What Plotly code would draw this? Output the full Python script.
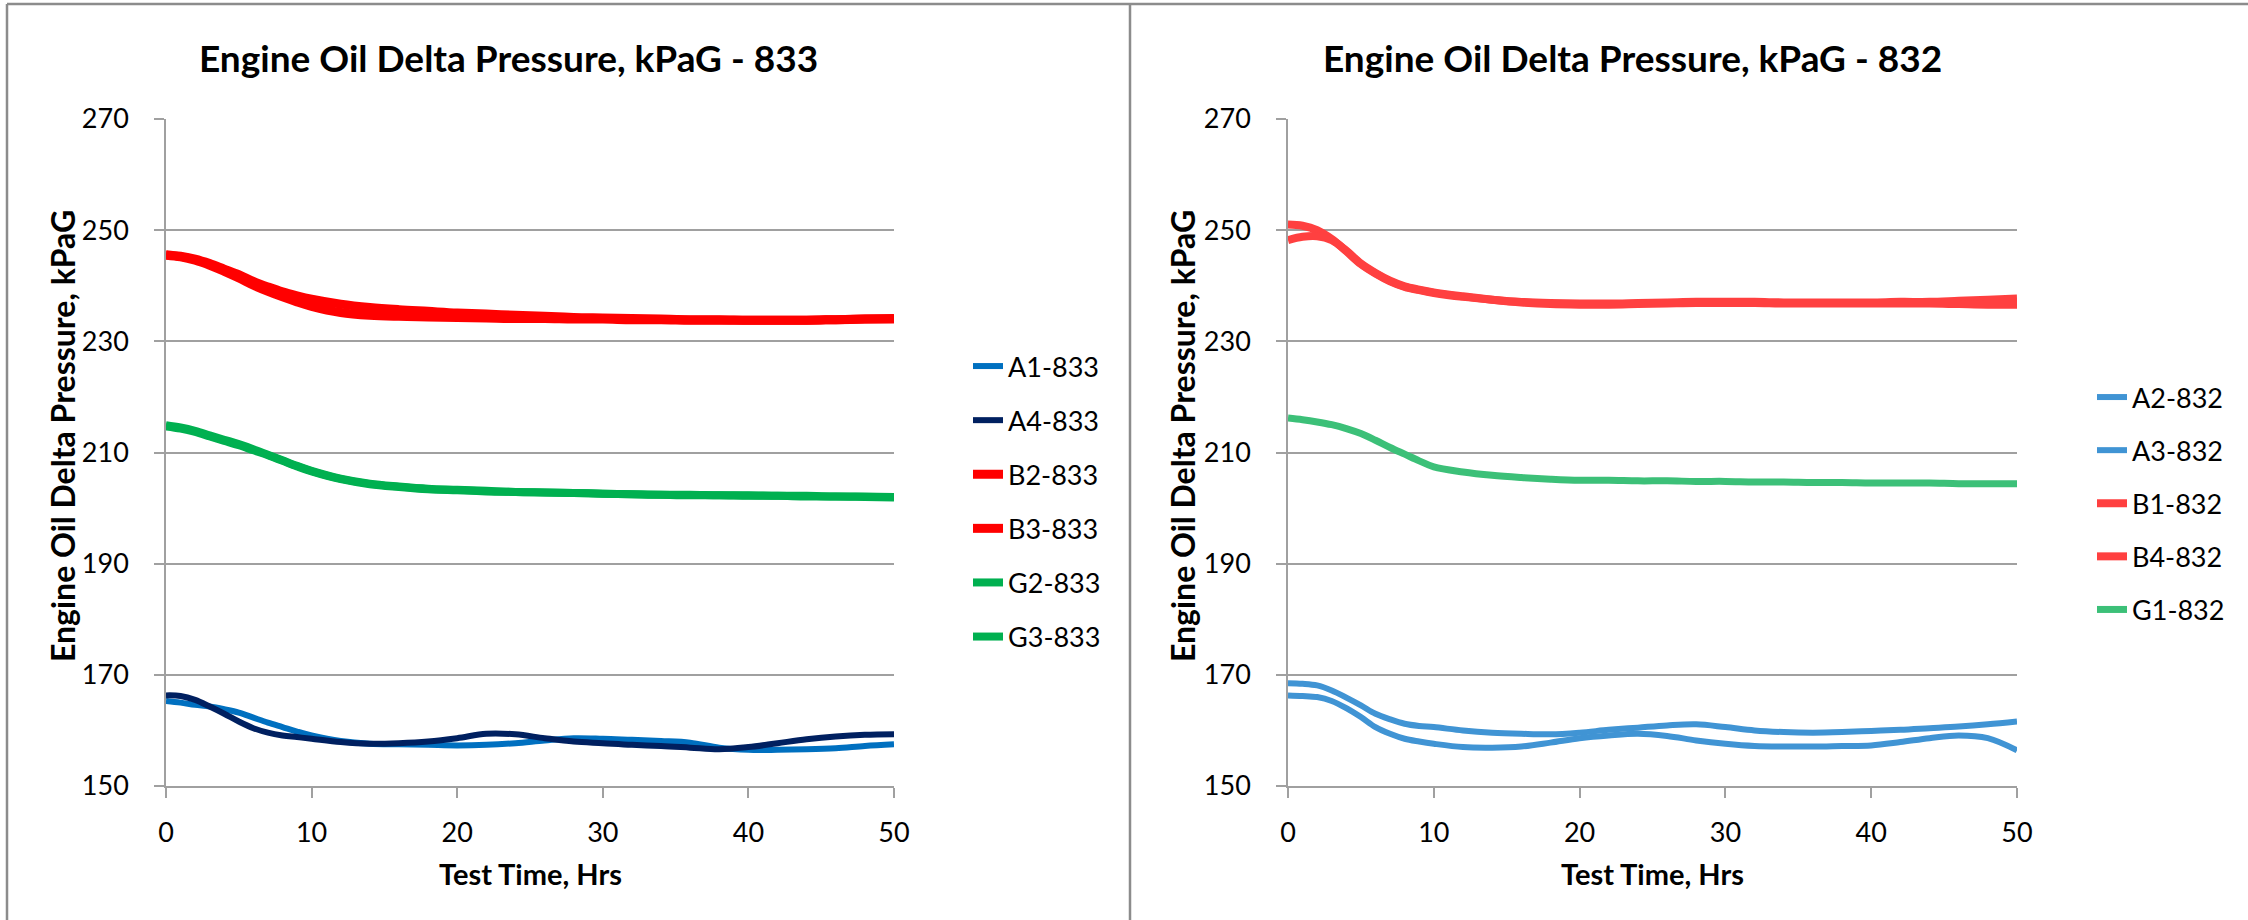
import plotly.graph_objects as go

# Test time in hours (shared sample points)
hours = [0, 1, 2, 3, 4, 5, 6, 7, 8, 9, 10, 12, 14, 16, 18, 20, 22, 24, 26, 28,
         30, 32, 34, 36, 38, 40, 42, 44, 46, 48, 50]

# ---- Engine 833 ----
a1_833 = [165.3, 165.0, 164.6, 164.3, 163.8, 163.2, 162.3, 161.4, 160.6, 159.8, 159.1,
          158.1, 157.6, 157.5, 157.4, 157.3, 157.4, 157.7, 158.2, 158.6, 158.5, 158.3,
          158.1, 157.8, 156.9, 156.5, 156.5, 156.6, 156.8, 157.2, 157.5]
a4_833 = [166.3, 166.2, 165.5, 164.3, 163.0, 161.6, 160.4, 159.6, 159.1, 158.8, 158.5,
          157.9, 157.6, 157.7, 158.0, 158.6, 159.4, 159.3, 158.6, 158.0, 157.7, 157.4,
          157.2, 156.9, 156.6, 157.0, 157.7, 158.4, 158.9, 159.2, 159.3]
b2_833 = [245.6, 245.3, 244.8, 244.0, 243.0, 242.0, 240.8, 239.8, 238.9, 238.2, 237.6,
          236.7, 236.1, 235.7, 235.4, 235.1, 234.9, 234.7, 234.5, 234.3, 234.2, 234.1,
          234.0, 233.9, 233.9, 233.8, 233.8, 233.8, 233.9, 234.0, 234.1]
b3_833 = [245.5, 245.2, 244.6, 243.7, 242.6, 241.4, 240.1, 239.0, 238.0, 237.1, 236.3,
          235.2, 234.7, 234.5, 234.4, 234.3, 234.2, 234.1, 234.1, 234.0, 234.0, 233.9,
          233.9, 233.8, 233.8, 233.8, 233.8, 233.8, 233.9, 234.0, 234.0]
g2_833 = [214.7, 214.3, 213.7, 212.9, 212.1, 211.3, 210.4, 209.5, 208.5, 207.5, 206.6,
          205.2, 204.3, 203.8, 203.4, 203.2, 203.0, 202.9, 202.8, 202.7, 202.6, 202.5,
          202.4, 202.4, 202.3, 202.3, 202.2, 202.2, 202.1, 202.1, 202.0]
g3_833 = [214.9, 214.5, 213.9, 213.1, 212.3, 211.5, 210.6, 209.6, 208.6, 207.6, 206.7,
          205.3, 204.4, 203.9, 203.5, 203.3, 203.1, 202.9, 202.8, 202.7, 202.6, 202.5,
          202.4, 202.3, 202.3, 202.2, 202.2, 202.1, 202.1, 202.0, 201.9]

# ---- Engine 832 ----
a2_832 = [168.5, 168.4, 168.1, 167.2, 165.9, 164.5, 163.0, 162.0, 161.2, 160.8, 160.6,
          160.0, 159.6, 159.4, 159.3, 159.6, 160.1, 160.5, 160.9, 161.1, 160.6, 160.0,
          159.7, 159.6, 159.7, 159.9, 160.1, 160.4, 160.7, 161.1, 161.6]
a3_832 = [166.3, 166.2, 166.0, 165.3, 164.0, 162.4, 160.6, 159.4, 158.5, 158.0, 157.6,
          157.0, 156.9, 157.1, 157.8, 158.6, 159.1, 159.4, 159.0, 158.2, 157.6, 157.2,
          157.1, 157.1, 157.2, 157.3, 157.9, 158.6, 159.1, 158.6, 156.4]
b1_832 = [251.0, 250.8, 250.0, 248.4, 246.2, 243.9, 242.2, 240.8, 239.8, 239.2, 238.7,
          238.0, 237.5, 237.1, 236.9, 236.8, 236.8, 236.9, 237.0, 237.1, 237.1, 237.1,
          237.0, 237.0, 237.0, 237.0, 237.1, 237.1, 237.3, 237.5, 237.7]
b4_832 = [248.2, 248.8, 248.9, 248.2, 246.3, 244.0, 242.3, 240.9, 239.9, 239.3, 238.8,
          238.1, 237.5, 237.0, 236.7, 236.6, 236.6, 236.7, 236.8, 236.9, 236.9, 236.9,
          236.8, 236.8, 236.8, 236.8, 236.8, 236.8, 236.7, 236.6, 236.6]
g1_832 = [216.2, 215.9, 215.5, 215.0, 214.3, 213.4, 212.2, 210.9, 209.7, 208.5, 207.4,
          206.5, 205.9, 205.5, 205.2, 205.0, 205.0, 204.9, 204.9, 204.8, 204.8, 204.7,
          204.7, 204.6, 204.6, 204.5, 204.5, 204.5, 204.4, 204.4, 204.4]

FONT = "Lato"
GRID = "#A0A0A0"
W, H = 2248, 920

left_series = [
    ("A1-833", a1_833, "#0070C0", 6),
    ("A4-833", a4_833, "#002060", 6),
    ("B2-833", b2_833, "#FF0000", 9),
    ("B3-833", b3_833, "#FF0000", 9),
    ("G2-833", g2_833, "#00B050", 8),
    ("G3-833", g3_833, "#00B050", 8),
]
right_series = [
    ("A2-832", a2_832, "rgb(64,148,212)", 6),
    ("A3-832", a3_832, "rgb(64,148,212)", 6),
    ("B1-832", b1_832, "rgb(255,64,64)", 8),
    ("B4-832", b4_832, "rgb(255,64,64)", 8),
    ("G1-832", g1_832, "rgb(60,192,120)", 7),
]

fig = go.Figure()
for name, vals, color, lw in left_series:
    fig.add_trace(go.Scatter(x=hours, y=vals, name=name, mode="lines",
                             line=dict(color=color, width=lw, shape="spline"),
                             xaxis="x", yaxis="y", legend="legend", legendgroup=name))
for name, vals, color, lw in right_series:
    fig.add_trace(go.Scatter(x=hours, y=vals, name=name, mode="lines",
                             line=dict(color=color, width=lw, shape="spline"),
                             xaxis="x2", yaxis="y2", legend="legend2", legendgroup=name))


def px_x(p):
    return p / W


def px_y(p):
    return 1 - p / H


y_dom = [px_y(786), px_y(119)]

common_x = dict(range=[0, 50], tick0=0, dtick=10, showgrid=False, zeroline=False,
                showline=True, linecolor=GRID, linewidth=1.5, ticks="outside", ticklen=10,
                tickcolor=GRID, tickwidth=1.5,
                tickfont=dict(family=FONT, size=27, color="#000"),
                ticklabelstandoff=12, fixedrange=True, automargin=False)
common_y = dict(range=[150, 270], tick0=150, dtick=20, showgrid=True, gridcolor=GRID,
                gridwidth=1.5, zeroline=False, showline=True, linecolor=GRID, linewidth=1.5,
                ticks="outside", ticklen=10, tickcolor=GRID, tickwidth=1.5,
                tickfont=dict(family=FONT, size=27, color="#000"), ticklabelstandoff=20,
                domain=y_dom, fixedrange=True, automargin=False)

legend_font = dict(family=FONT, size=27, color="#000")
fig.update_layout(
    width=W, height=H,
    margin=dict(l=0, r=0, t=0, b=0, autoexpand=False),
    paper_bgcolor="white", plot_bgcolor="white",
    xaxis=dict(common_x, domain=[px_x(166), px_x(894)], anchor="y"),
    yaxis=dict(common_y, anchor="x"),
    xaxis2=dict(common_x, domain=[px_x(1288), px_x(2017)], anchor="y2"),
    yaxis2=dict(common_y, anchor="x2"),
    legend=dict(x=px_x(968), y=px_y(342), xanchor="left", yanchor="top",
                font=legend_font, tracegroupgap=16, bgcolor="rgba(0,0,0,0)"),
    legend2=dict(x=px_x(2092), y=px_y(373), xanchor="left", yanchor="top",
                 font=legend_font, tracegroupgap=15, bgcolor="rgba(0,0,0,0)"),
    showlegend=True,
)

annotations = []
# chart titles
for txt, cx in [("Engine Oil Delta Pressure, kPaG - 833", 508),
                ("Engine Oil Delta Pressure, kPaG - 832", 1632)]:
    annotations.append(dict(text=f"<b>{txt}</b>", x=px_x(cx), y=px_y(58), xref="paper",
                            yref="paper", showarrow=False, xanchor="center", yanchor="middle",
                            font=dict(family=FONT, size=37, color="#000")))
# axis titles
for cx in [530, 1652]:
    annotations.append(dict(text="<b>Test Time, Hrs</b>", x=px_x(cx), y=px_y(873),
                            xref="paper", yref="paper", showarrow=False,
                            xanchor="center", yanchor="middle",
                            font=dict(family=FONT, size=29, color="#000")))
for cx in [63, 1183]:
    annotations.append(dict(text="<b>Engine Oil Delta Pressure, kPaG</b>", x=px_x(cx),
                            y=px_y(436), xref="paper", yref="paper", showarrow=False,
                            textangle=-90, xanchor="center", yanchor="middle",
                            font=dict(family=FONT, size=32, color="#000")))
fig.update_layout(annotations=annotations)

# panel frames
frame = dict(type="line", xref="paper", yref="paper", line=dict(color="#8C8C8C", width=2.5))
fig.add_shape(frame, x0=px_x(7), x1=1, y0=px_y(4), y1=px_y(4))
fig.add_shape(frame, x0=px_x(7), x1=px_x(7), y0=px_y(4), y1=0)
fig.add_shape(frame, x0=px_x(1130), x1=px_x(1130), y0=px_y(4), y1=0)

fig.write_html("out.html")
